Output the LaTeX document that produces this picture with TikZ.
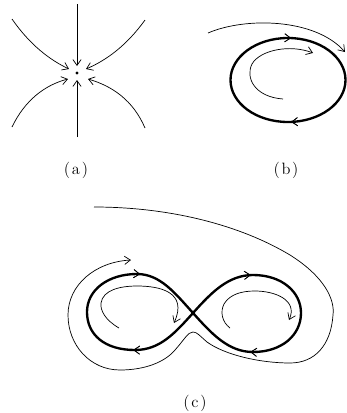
\documentclass[tikz,border=0pt]{standalone}
\usepackage{tikz}
\usetikzlibrary{arrows.meta,decorations.markings}

\begin{document}
\begin{tikzpicture}[
  x=0.03cm, y=-0.03cm,
  thin/.style={line width=0.6pt, draw=black},
  flow/.style={thin, -{Straight Barb[length=5pt, width=7pt, line width=0.6pt]}},
  orbit/.style={line width=2pt, draw=black},
  tip/.style={decoration={markings, mark=at position #1 with {\arrow{Straight Barb[length=5pt, width=7pt, line width=0.6pt]}}}, postaction={decorate}},
  lbl/.style={font=\fontsize{14}{16}\selectfont}
]
\useasboundingbox (0,0) rectangle (347,413);

% (a) stable node
\coordinate (O) at (77,73);
\fill (O) circle (1.6);
\draw[flow] (77,4) -- (77,66);
\draw[flow] (77,137) -- (77,80);
\draw[flow] (12,19) .. controls (30,45) and (50,60) .. (69,69);
\draw[flow] (145,20) .. controls (127,45) and (107,60) .. (86,69);
\draw[flow] (12,127) .. controls (25,100) and (45,85) .. (68,79);
\draw[flow] (145,128) .. controls (133,100) and (112,86) .. (88,79);
\node[lbl] (la) at (76,170) {(\hspace{1.5pt}a\hspace{1.5pt})};

% (b) limit cycle
\draw[orbit, tip=0.24, tip=0.76] (345.5,80) arc[start angle=0, end angle=360, x radius=57.5, y radius=42];
\draw[flow] (283,99) .. controls (255,97) and (245,78) .. (252,64)
  .. controls (260,50) and (290,44) .. (313,53);
\draw[flow] (208,33) .. controls (245,17) and (315,18) .. (345,52);
\node[lbl] (lb) at (286,170) {(\hspace{1.5pt}b\hspace{1.5pt})};

% (c) figure eight
\coordinate (X) at (193,313);
\draw[orbit, tip=0.26, tip=0.76] (X) .. controls (175,333) and (160,350) .. (135,350)
  .. controls (105,350) and (87,335) .. (87,312)
  .. controls (87,290) and (108,274) .. (137,274)
  .. controls (160,274) and (175,293) .. (X);
\draw[orbit, tip=0.25, tip=0.75] (X) .. controls (211,293) and (228,275) .. (253,275)
  .. controls (282,275) and (301,292) .. (301,313)
  .. controls (301,335) and (282,352) .. (253,352)
  .. controls (228,352) and (211,333) .. (X);
\draw[flow] (119,328) .. controls (105,320) and (100,310) .. (101,303)
  .. controls (103,290) and (120,286) .. (137,286)
  .. controls (160,286) and (188,292) .. (174,323);
\draw[flow] (230,328) .. controls (222,322) and (220,312) .. (224,304)
  .. controls (230,294) and (242,291) .. (255,291)
  .. controls (275,291) and (298,300) .. (289,320);
\draw[flow] (94,207) .. controls (170,207) and (240,225) .. (290,255)
  .. controls (325,277) and (335,300) .. (333,315)
  .. controls (331,345) and (315,363) .. (290,363)
  .. controls (260,363) and (225,355) .. (207,342)
  .. controls (200,336) and (197,332) .. (193,332)
  .. controls (188,332) and (184,340) .. (175,350)
  .. controls (165,362) and (145,370) .. (120,370)
  .. controls (90,370) and (68,345) .. (68,315)
  .. controls (68,285) and (95,262) .. (131,260);
\node[lbl] (lc) at (195,403) {(\hspace{1.5pt}c\hspace{1.5pt})};
\end{tikzpicture}
\end{document}
